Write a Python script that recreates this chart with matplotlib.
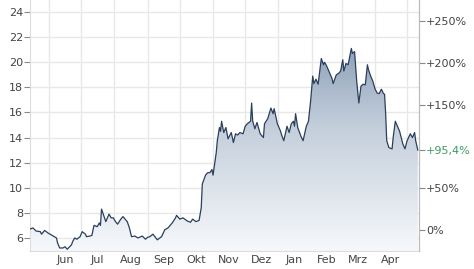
import numpy as np
import pandas as pd
import matplotlib
matplotlib.use("Agg")
import matplotlib.pyplot as plt
import matplotlib.dates as mdates
from matplotlib.colors import LinearSegmentedColormap

# ----- Daten ----- #
dates = [
    "2020-05-14", "2020-05-17", "2020-05-20", "2020-05-24", "2020-05-25", "2020-05-28",
    "2020-05-31", "2020-06-03", "2020-06-06", "2020-06-08", "2020-06-09", "2020-06-11",
    "2020-06-14", "2020-06-16", "2020-06-18", "2020-06-22", "2020-06-23", "2020-06-25",
    "2020-06-27", "2020-06-30", "2020-07-02", "2020-07-05", "2020-07-06", "2020-07-09",
    "2020-07-11", "2020-07-13", "2020-07-16", "2020-07-18", "2020-07-19", "2020-07-20",
    "2020-07-22", "2020-07-24", "2020-07-27", "2020-07-29", "2020-07-31", "2020-08-02",
    "2020-08-04", "2020-08-07", "2020-08-09", "2020-08-11", "2020-08-13", "2020-08-15",
    "2020-08-17", "2020-08-20", "2020-08-23", "2020-08-27", "2020-08-30", "2020-09-01",
    "2020-09-03", "2020-09-06", "2020-09-10", "2020-09-14", "2020-09-17", "2020-09-20",
    "2020-09-24", "2020-09-27", "2020-09-28", "2020-10-01", "2020-10-04", "2020-10-08",
    "2020-10-11", "2020-10-13", "2020-10-16", "2020-10-19", "2020-10-21", "2020-10-22",
    "2020-10-25", "2020-10-27", "2020-10-29", "2020-10-31", "2020-11-01", "2020-11-04",
    "2020-11-05", "2020-11-07", "2020-11-08", "2020-11-09", "2020-11-11", "2020-11-13",
    "2020-11-15", "2020-11-18", "2020-11-20", "2020-11-22", "2020-11-24", "2020-11-26",
    "2020-11-29", "2020-12-01", "2020-12-03", "2020-12-06", "2020-12-07", "2020-12-08",
    "2020-12-10", "2020-12-12", "2020-12-15", "2020-12-18", "2020-12-19", "2020-12-22",
    "2020-12-25", "2020-12-27", "2020-12-28", "2020-12-31", "2021-01-03", "2021-01-04",
    "2021-01-06", "2021-01-09", "2021-01-11", "2021-01-13", "2021-01-15", "2021-01-16",
    "2021-01-17", "2021-01-19", "2021-01-22", "2021-01-24", "2021-01-27", "2021-01-29",
    "2021-01-31", "2021-02-02", "2021-02-03", "2021-02-05", "2021-02-07", "2021-02-10",
    "2021-02-12", "2021-02-13", "2021-02-15", "2021-02-17", "2021-02-20", "2021-02-21",
    "2021-02-24", "2021-02-26", "2021-02-28", "2021-03-02", "2021-03-03", "2021-03-05",
    "2021-03-07", "2021-03-10", "2021-03-11", "2021-03-13", "2021-03-14", "2021-03-15",
    "2021-03-17", "2021-03-19", "2021-03-21", "2021-03-23", "2021-03-25", "2021-03-26",
    "2021-03-28", "2021-03-30", "2021-04-01", "2021-04-03", "2021-04-05", "2021-04-07",
    "2021-04-09", "2021-04-10", "2021-04-11", "2021-04-12", "2021-04-14", "2021-04-17",
    "2021-04-18", "2021-04-20", "2021-04-22", "2021-04-24", "2021-04-27", "2021-04-29",
    "2021-05-01", "2021-05-04", "2021-05-06", "2021-05-08", "2021-05-09", "2021-05-11",
]
prices = [
    6.7, 6.8, 6.55, 6.5, 6.3, 6.6,
    6.4, 6.25, 6.1, 6.0, 5.6, 5.2,
    5.2, 5.3, 5.1, 5.45, 5.7, 6.0,
    5.9, 6.1, 6.5, 6.3, 6.1, 6.15,
    6.2, 7.0, 6.9, 7.2, 7.0, 8.3,
    7.8, 7.3, 7.9, 7.6, 7.6, 7.3,
    7.1, 7.5, 7.7, 7.5, 7.3, 6.8,
    6.1, 6.15, 6.0, 6.15, 5.9, 6.05,
    6.1, 6.3, 5.85, 6.1, 6.65, 6.8,
    7.2, 7.6, 7.8, 7.5, 7.6, 7.35,
    7.25, 7.5, 7.3, 7.4, 8.4, 10.3,
    11.0, 11.2, 11.2, 11.45, 11.0, 12.8,
    13.75, 14.8, 14.5, 15.3, 14.4, 14.8,
    13.9, 14.4, 13.6, 14.3, 14.2, 14.4,
    14.3, 14.9, 15.1, 15.3, 16.75, 15.3,
    14.7, 15.2, 14.3, 14.0, 15.1, 15.5,
    16.35, 15.9, 16.3, 15.1, 14.5, 14.2,
    13.75, 14.9, 14.4, 15.1, 15.3, 14.9,
    15.9, 14.8, 14.1, 13.75, 14.9, 15.3,
    16.9, 18.9, 18.3, 18.65, 18.25, 20.3,
    19.8, 20.0, 19.7, 19.3, 18.7, 18.3,
    19.0, 19.1, 19.3, 20.2, 19.3, 19.9,
    19.8, 21.1, 20.7, 20.85, 19.7, 18.5,
    16.75, 18.1, 18.25, 18.2, 19.8, 19.4,
    18.9, 18.5, 17.9, 17.55, 17.5, 17.85,
    17.5, 17.45, 15.9, 13.75, 13.2, 13.1,
    14.0, 15.3, 14.9, 14.5, 13.5, 13.1,
    13.75, 14.3, 14.0, 14.4, 13.75, 13.0,
]
month_labels = ["Jun", "Jul", "Aug", "Sep", "Okt", "Nov", "Dez", "Jan", "Feb", "Mrz", "Apr"]
month_mids = ["2020-06-16", "2020-07-16", "2020-08-16", "2020-09-16", "2020-10-16", "2020-11-16",
              "2020-12-16", "2021-01-16", "2021-02-15", "2021-03-16", "2021-04-16"]
left_ticks = [6, 8, 10, 12, 14, 16, 18, 20, 22, 24]
pct_ticks = [0, 50, 150, 200, 250]
current_pct = 95.4
base_price = prices[-1] / (1 + current_pct / 100)

# ----- Figur ----- #
x = mdates.date2num(pd.to_datetime(dates))
start = mdates.date2num(pd.Timestamp("2020-06-01"))
xmin, xmax = start - 17.7, start + 345.1
ymin, ymax = 4.96, 24.96

fig = plt.figure(figsize=(4.74, 2.69), dpi=100)
ax = fig.add_axes([30 / 474, 18 / 269, 389 / 474, 251 / 269])
ax.set_xlim(xmin, xmax)
ax.set_ylim(ymin, ymax)

grid_c = "#e8e8e8"
text_c = "#444444"

# Verlaufsfläche unter der Kurve
cmap = LinearSegmentedColormap.from_list("fade", ["#f6f8fb", "#c3cedb", "#6f87a6"])
grad = np.linspace(0, 1, 256).reshape(-1, 1)
im = ax.imshow(grad, extent=[xmin, xmax, ymin, ymax], origin="lower",
               aspect="auto", cmap=cmap, zorder=1)
poly = ax.fill_between(x, prices, ymin, facecolor="none", edgecolor="none")
im.set_clip_path(poly.get_paths()[0], transform=ax.transData)
ax.plot(x, prices, color="#2b3f5c", lw=0.9, zorder=3)

# Achsen / Gitter
ax.set_yticks(left_ticks)
ax.yaxis.grid(True, color=grid_c, lw=1)
ax.xaxis.set_major_locator(mdates.MonthLocator())
ax.xaxis.set_major_formatter(plt.NullFormatter())
ax.set_xticks(mdates.date2num(pd.to_datetime(month_mids)), minor=True)
ax.set_xticklabels(month_labels, minor=True)
ax.xaxis.grid(True, which="major", color=grid_c, lw=1)
ax.tick_params(axis="x", which="both", length=0, labelsize=8, labelcolor=text_c, pad=3)
ax.tick_params(axis="y", length=4, width=0.8, color="#888888", labelsize=8, labelcolor=text_c, pad=1)
ax.set_axisbelow(True)
ax.spines["top"].set_visible(False)
ax.spines["left"].set_color("#dddddd")
ax.spines["bottom"].set_color("#dddddd")
ax.spines["right"].set_color("#bbbbbb")

# rechte Achse in Prozent
ax2 = ax.twinx()
ax2.set_ylim(ymin, ymax)
pos = [base_price * (1 + p / 100) for p in pct_ticks] + [prices[-1]]
labels = [("+%d%%" % p if p > 0 else "0%") for p in pct_ticks] + ["+95,4%"]
ax2.set_yticks(pos)
ax2.set_yticklabels(labels)
ax2.tick_params(axis="y", length=4, width=0.8, color="#888888", labelsize=8, labelcolor=text_c, pad=1)
ax2.get_yticklabels()[-1].set_color("#3c9a66")
for s in ["top", "left", "bottom"]:
    ax2.spines[s].set_visible(False)
ax2.spines["right"].set_color("#bbbbbb")

fig.savefig("out.png", dpi=100)
